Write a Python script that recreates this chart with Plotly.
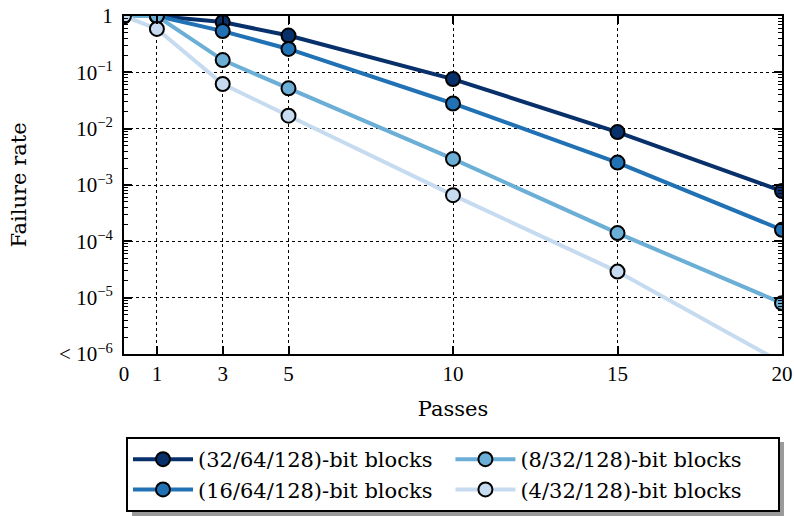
import plotly.graph_objects as go

passes = [0, 1, 3, 5, 10, 15, 20]
series_names = ["(32/64/128)-bit blocks", "(16/64/128)-bit blocks",
                "(8/32/128)-bit blocks", "(4/32/128)-bit blocks"]
rate_32_64 = [1.0, 1.0, 0.78, 0.45, 0.076, 0.0087, 0.00078]
rate_16_64 = [1.0, 1.0, 0.54, 0.26, 0.028, 0.0025, 0.00016]
rate_8_32 = [1.0, 1.0, 0.165, 0.052, 0.0029, 0.00014, 0.000008]
rate_4_32 = [1.0, 0.59, 0.062, 0.017, 0.00066, 0.000029, 0.0000007]
series_values = [rate_32_64, rate_16_64, rate_8_32, rate_4_32]
colors = ["#08306b", "#2171b5", "#6baed6", "#c6dbef"]
legend_ranks = [1, 3, 2, 4]

x_ticks = [0, 1, 3, 5, 10, 15, 20]
y_tickvals = [1e-6, 1e-5, 1e-4, 1e-3, 1e-2, 1e-1, 1]
y_ticktext = ["&lt; 10<sup>−6</sup>", "10<sup>−5</sup>", "10<sup>−4</sup>",
              "10<sup>−3</sup>", "10<sup>−2</sup>", "10<sup>−1</sup>", "1"]

fig = go.Figure()
for name, vals, col, rk in zip(series_names, series_values, colors, legend_ranks):
    fig.add_trace(go.Scatter(
        x=passes, y=vals, name=name, mode="lines+markers",
        line=dict(color=col, width=4),
        marker=dict(size=14, color=col, line=dict(color="black", width=2)),
        cliponaxis=True, legendrank=rk,
    ))

minor_vals = [m * 10.0 ** e for e in range(-6, 0) for m in range(2, 10)]

tick_font = dict(family="Liberation Serif", size=21, color="black")
title_font = dict(family="DejaVu Serif", size=21, color="black")

# legend drop shadow (paper coordinates)
fig.add_shape(type="rect", xref="paper", yref="paper",
              x0=0.0122, x1=1.0030, y0=-0.2604, y1=-0.4852,
              fillcolor="#9a9a9a", line=dict(width=0), layer="above")

fig.update_layout(
    width=794, height=516,
    margin=dict(l=124, r=12, t=16, b=162, autoexpand=False),
    plot_bgcolor="white", paper_bgcolor="white",
    font=dict(family="Liberation Serif", color="black", size=20),
    showlegend=True,
    legend=dict(
        orientation="h", x=0.5, xanchor="center", y=-0.2456, yanchor="top",
        bordercolor="black", borderwidth=2, bgcolor="white",
        font=dict(family="DejaVu Serif", size=21, color="black"),
        entrywidth=0.49, entrywidthmode="fraction", traceorder="normal",
        itemwidth=60,
    ),
    xaxis=dict(
        range=[0, 20], tickmode="array", tickvals=x_ticks,
        tickfont=tick_font, ticklabelstandoff=0, ticklabeloverflow="allow",
        ticks="inside", ticklen=8, tickwidth=1.5, tickcolor="black",
        showline=True, linecolor="black", linewidth=2, mirror="allticks",
        showgrid=True, gridcolor="black", griddash="dot", gridwidth=1,
        zeroline=False, automargin=False,
        title=dict(text="Passes", font=title_font, standoff=16),
    ),
    yaxis=dict(
        type="log", range=[-6, 0], tickmode="array", tickvals=y_tickvals,
        ticktext=y_ticktext, tickfont=tick_font, ticklabelstandoff=5,
        ticklabeloverflow="allow",
        ticks="inside", ticklen=8, tickwidth=1.5, tickcolor="black",
        showline=True, linecolor="black", linewidth=2, mirror="allticks",
        showgrid=True, gridcolor="black", griddash="dot", gridwidth=1,
        zeroline=False, automargin=False,
        minor=dict(tickmode="array", tickvals=minor_vals, ticks="inside",
                   ticklen=4, tickwidth=1, tickcolor="black", showgrid=False),
        title=dict(text="Failure rate", font=title_font, standoff=27),
    ),
)

fig.write_html("out.html", config={"displayModeBar": False},
               post_script="document.body.style.margin='0px';")
